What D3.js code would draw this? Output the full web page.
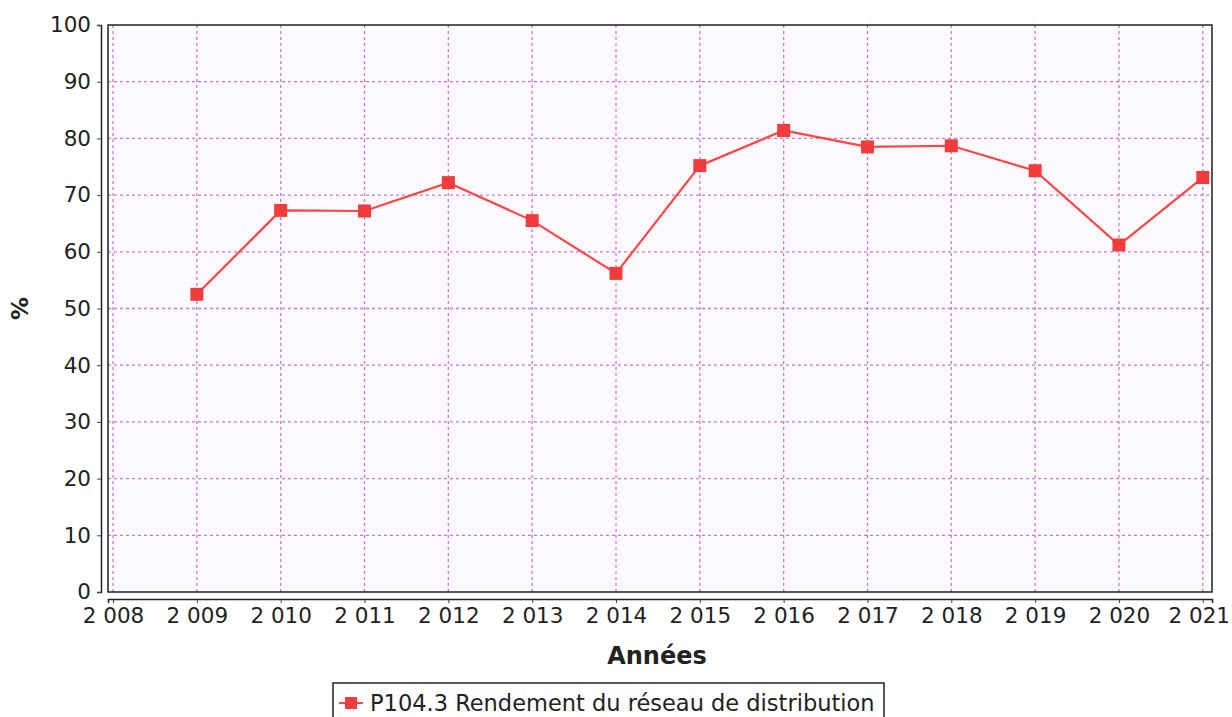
<!DOCTYPE html>
<html>
<head>
<meta charset="utf-8">
<script src="https://cdn.jsdelivr.net/npm/d3@7"></script>
<style>
  body { margin: 0; background: #fff; }
  svg { display: block; font-family: "DejaVu Sans", sans-serif; }
</style>
</head>
<body>
<svg width="1232" height="717"></svg>
<script>
var years = [2009, 2010, 2011, 2012, 2013, 2014, 2015, 2016, 2017, 2018, 2019, 2020, 2021];
var rendement = [52.5, 67.3, 67.2, 72.2, 65.5, 56.2, 75.2, 81.4, 78.5, 78.7, 74.3, 61.2, 73.1];
var xTicks = [2008, 2009, 2010, 2011, 2012, 2013, 2014, 2015, 2016, 2017, 2018, 2019, 2020, 2021];
var yTicks = [0, 10, 20, 30, 40, 50, 60, 70, 80, 90, 100];
var seriesName = "P104.3 Rendement du réseau de distribution";

var svg = d3.select("svg"),
    plotLeft = 108, plotRight = 1212, plotTop = 25, plotBottom = 592;

var x = d3.scaleLinear()
    .domain([2007.94, 2021.11])
    .range([plotLeft, plotRight]);

var y = d3.scaleLinear()
    .domain([0, 100])
    .range([plotBottom, plotTop]);

// plot background
svg.append("rect")
    .attr("x", plotLeft).attr("y", plotTop)
    .attr("width", plotRight - plotLeft).attr("height", plotBottom - plotTop)
    .attr("fill", "#fbf9fe");

// grid
var grid = svg.append("g")
    .attr("stroke", "#c77cc9")
    .attr("stroke-width", 1.3)
    .attr("stroke-dasharray", "3,3");

grid.selectAll("line.v")
    .data(xTicks)
    .enter().append("line")
      .attr("class", "v")
      .attr("x1", function(d) { return x(d); })
      .attr("x2", function(d) { return x(d); })
      .attr("y1", plotTop).attr("y2", plotBottom);

grid.selectAll("line.h")
    .data(yTicks.slice(1, -1))
    .enter().append("line")
      .attr("class", "h")
      .attr("y1", function(d) { return y(d); })
      .attr("y2", function(d) { return y(d); })
      .attr("x1", plotLeft).attr("x2", plotRight);

// plot border
svg.append("rect")
    .attr("x", plotLeft).attr("y", plotTop)
    .attr("width", plotRight - plotLeft).attr("height", plotBottom - plotTop)
    .attr("fill", "none")
    .attr("stroke", "#222")
    .attr("stroke-width", 1.5);

// axes, offset from the plot
var xAxis = svg.append("g")
    .attr("transform", "translate(0," + (plotBottom + 7) + ")")
    .call(d3.axisBottom(x)
      .tickValues(xTicks)
      .tickSize(4)
      .tickPadding(5)
      .tickFormat(function(d) { return String(d).slice(0, 1) + "\u00a0" + String(d).slice(1); }));

var yAxis = svg.append("g")
    .attr("transform", "translate(" + (plotLeft - 7) + ",0)")
    .call(d3.axisLeft(y)
      .tickValues(yTicks)
      .tickSize(4)
      .tickPadding(6));

[xAxis, yAxis].forEach(function(a) {
  a.select(".domain").attr("stroke", "#222").attr("stroke-width", 1.5);
  a.selectAll(".tick line").attr("stroke", "#444");
  a.selectAll("text")
      .attr("fill", "#222")
      .style("font-size", "21.5px")
      .style("font-family", "DejaVu Sans, sans-serif");
});

// keep the last year label inside the page
xAxis.selectAll(".tick text")
    .filter(function(d) { return d === xTicks[xTicks.length - 1]; })
    .attr("dx", "-4");

// axis titles
svg.append("text")
    .attr("x", 657)
    .attr("y", 664)
    .attr("text-anchor", "middle")
    .attr("font-weight", "bold")
    .attr("font-size", 24)
    .attr("fill", "#222")
    .text("Années");

svg.append("text")
    .attr("transform", "translate(28," + ((plotTop + plotBottom) / 2) + ") rotate(-90)")
    .attr("text-anchor", "middle")
    .attr("font-weight", "bold")
    .attr("font-size", 23)
    .attr("fill", "#222")
    .text("%");

// series line
var line = d3.line()
    .x(function(d, i) { return x(years[i]); })
    .y(function(d) { return y(d); });

svg.append("path")
    .datum(rendement)
    .attr("fill", "none")
    .attr("stroke", "#f44")
    .attr("stroke-width", 2.2)
    .attr("d", line);

svg.selectAll("rect.pt")
    .data(rendement)
    .enter().append("rect")
      .attr("class", "pt")
      .attr("x", function(d, i) { return x(years[i]) - 6.5; })
      .attr("y", function(d) { return y(d) - 6.5; })
      .attr("width", 13)
      .attr("height", 13)
      .attr("fill", "#f03c3c");

// legend
var legend = svg.append("g")
    .attr("transform", "translate(333,683)");

legend.append("rect")
    .attr("width", 551)
    .attr("height", 40)
    .attr("fill", "#fff")
    .attr("stroke", "#222")
    .attr("stroke-width", 1.5);

legend.append("line")
    .attr("x1", 6).attr("x2", 30)
    .attr("y1", 20).attr("y2", 20)
    .attr("stroke", "#f44")
    .attr("stroke-width", 2);

legend.append("rect")
    .attr("x", 12).attr("y", 14)
    .attr("width", 12).attr("height", 12)
    .attr("fill", "#f03c3c");

legend.append("text")
    .attr("x", 37)
    .attr("y", 28)
    .attr("font-size", 22.5)
    .attr("fill", "#222")
    .text(seriesName);
</script>
</body>
</html>
